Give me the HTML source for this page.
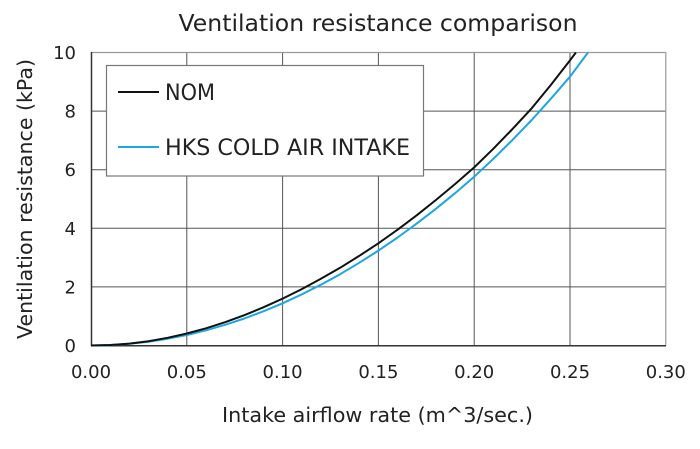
<!DOCTYPE html>
<html>
<head>
<meta charset="utf-8">
<style>
  html, body { margin: 0; padding: 0; background: #fff; }
  svg { display: block; }
  text { font-family: "DejaVu Sans", "Liberation Sans", sans-serif; fill: #222; }
</style>
</head>
<body>
<svg width="700" height="449" viewBox="0 0 700 449" xmlns="http://www.w3.org/2000/svg">
  <rect x="0" y="0" width="700" height="449" fill="#fff"/>

  <!-- Title -->
  <text x="378" y="31" font-size="23" text-anchor="middle" textLength="399" lengthAdjust="spacingAndGlyphs">Ventilation resistance comparison</text>

  <!-- grid lines -->
  <g stroke="#555" stroke-width="1">
    <line x1="186.8" y1="52.5" x2="186.8" y2="345.5"/>
    <line x1="282.6" y1="52.5" x2="282.6" y2="345.5"/>
    <line x1="378.4" y1="52.5" x2="378.4" y2="345.5"/>
    <line x1="474.2" y1="52.5" x2="474.2" y2="345.5"/>
    <line x1="570" y1="52.5" x2="570" y2="345.5"/>
    <line x1="91" y1="111.1" x2="666" y2="111.1"/>
    <line x1="91" y1="169.7" x2="666" y2="169.7"/>
    <line x1="91" y1="228.3" x2="666" y2="228.3"/>
    <line x1="91" y1="286.9" x2="666" y2="286.9"/>
  </g>
  <!-- top/right border -->
  <g stroke="#999" stroke-width="1.2">
    <line x1="91" y1="52.5" x2="666" y2="52.5"/>
    <line x1="665.8" y1="52.5" x2="665.8" y2="345.5"/>
  </g>
  <!-- axes -->
  <g stroke="#333" stroke-width="1.5">
    <line x1="91.5" y1="52" x2="91.5" y2="346"/>
    <line x1="91" y1="345.8" x2="666" y2="345.8"/>
  </g>

  <!-- y tick labels -->
  <g font-size="18" text-anchor="end">
    <text x="76" y="59">10</text>
    <text x="76" y="117.6">8</text>
    <text x="76" y="176.2">6</text>
    <text x="76" y="234.8">4</text>
    <text x="76" y="293.4">2</text>
    <text x="76" y="352">0</text>
  </g>
  <!-- x tick labels -->
  <g font-size="18" text-anchor="middle">
    <text x="91" y="378">0.00</text>
    <text x="186.8" y="378">0.05</text>
    <text x="282.6" y="378">0.10</text>
    <text x="378.4" y="378">0.15</text>
    <text x="474.2" y="378">0.20</text>
    <text x="570" y="378">0.25</text>
    <text x="665.8" y="378">0.30</text>
  </g>

  <!-- axis titles -->
  <text x="377.5" y="422" font-size="20" text-anchor="middle" textLength="311" lengthAdjust="spacingAndGlyphs">Intake airflow rate (m^3/sec.)</text>
  <text transform="translate(32,199) rotate(-90)" x="0" y="0" font-size="20" text-anchor="middle" textLength="280" lengthAdjust="spacingAndGlyphs">Ventilation resistance (kPa)</text>

  <!-- HKS series -->
  <polyline fill="none" stroke="#1ba6e4" stroke-width="2" stroke-linejoin="round"
    points="91,345.5 110.2,345.1 129.3,343.8 148.5,341.7 167.6,338.7 186.8,335.0 206.0,330.3 225.1,324.8 244.3,318.5 263.4,311.3 282.6,303.3 301.8,294.4 320.9,284.7 340.1,274.2 359.2,262.8 378.4,250.6 397.6,237.5 416.7,223.6 435.9,208.8 455.0,193.2 474.2,176.7 493.4,158.8 512.5,139.9 531.7,120.0 550.8,98.8 570.0,76.7 588.0,52.5"/>
  <!-- NOM series -->
  <polyline fill="none" stroke="#111" stroke-width="2" stroke-linejoin="round"
    points="91,345.5 110.2,345.0 129.3,343.6 148.5,341.2 167.6,337.8 186.8,333.5 206.0,328.3 225.1,322.2 244.3,315.2 263.4,307.3 282.6,298.6 301.8,289.1 320.9,278.8 340.1,267.8 359.2,255.9 378.4,243.3 397.6,229.7 416.7,215.3 435.9,200.0 455.0,184.1 474.2,167.4 493.4,148.7 512.5,129.0 531.7,108.3 550.8,85.0 570.0,60.4 575.9,52.5"/>

  <!-- Legend -->
  <rect x="106.5" y="65.5" width="317" height="110.5" fill="#fff" stroke="#777" stroke-width="1.2"/>
  <line x1="118" y1="92" x2="159" y2="92" stroke="#111" stroke-width="2"/>
  <text x="165" y="100" font-size="22" textLength="50" lengthAdjust="spacingAndGlyphs">NOM</text>
  <line x1="118" y1="147" x2="159" y2="147" stroke="#1ba6e4" stroke-width="2"/>
  <text x="165" y="155" font-size="22" textLength="245" lengthAdjust="spacingAndGlyphs">HKS COLD AIR INTAKE</text>
</svg>
</body>
</html>
